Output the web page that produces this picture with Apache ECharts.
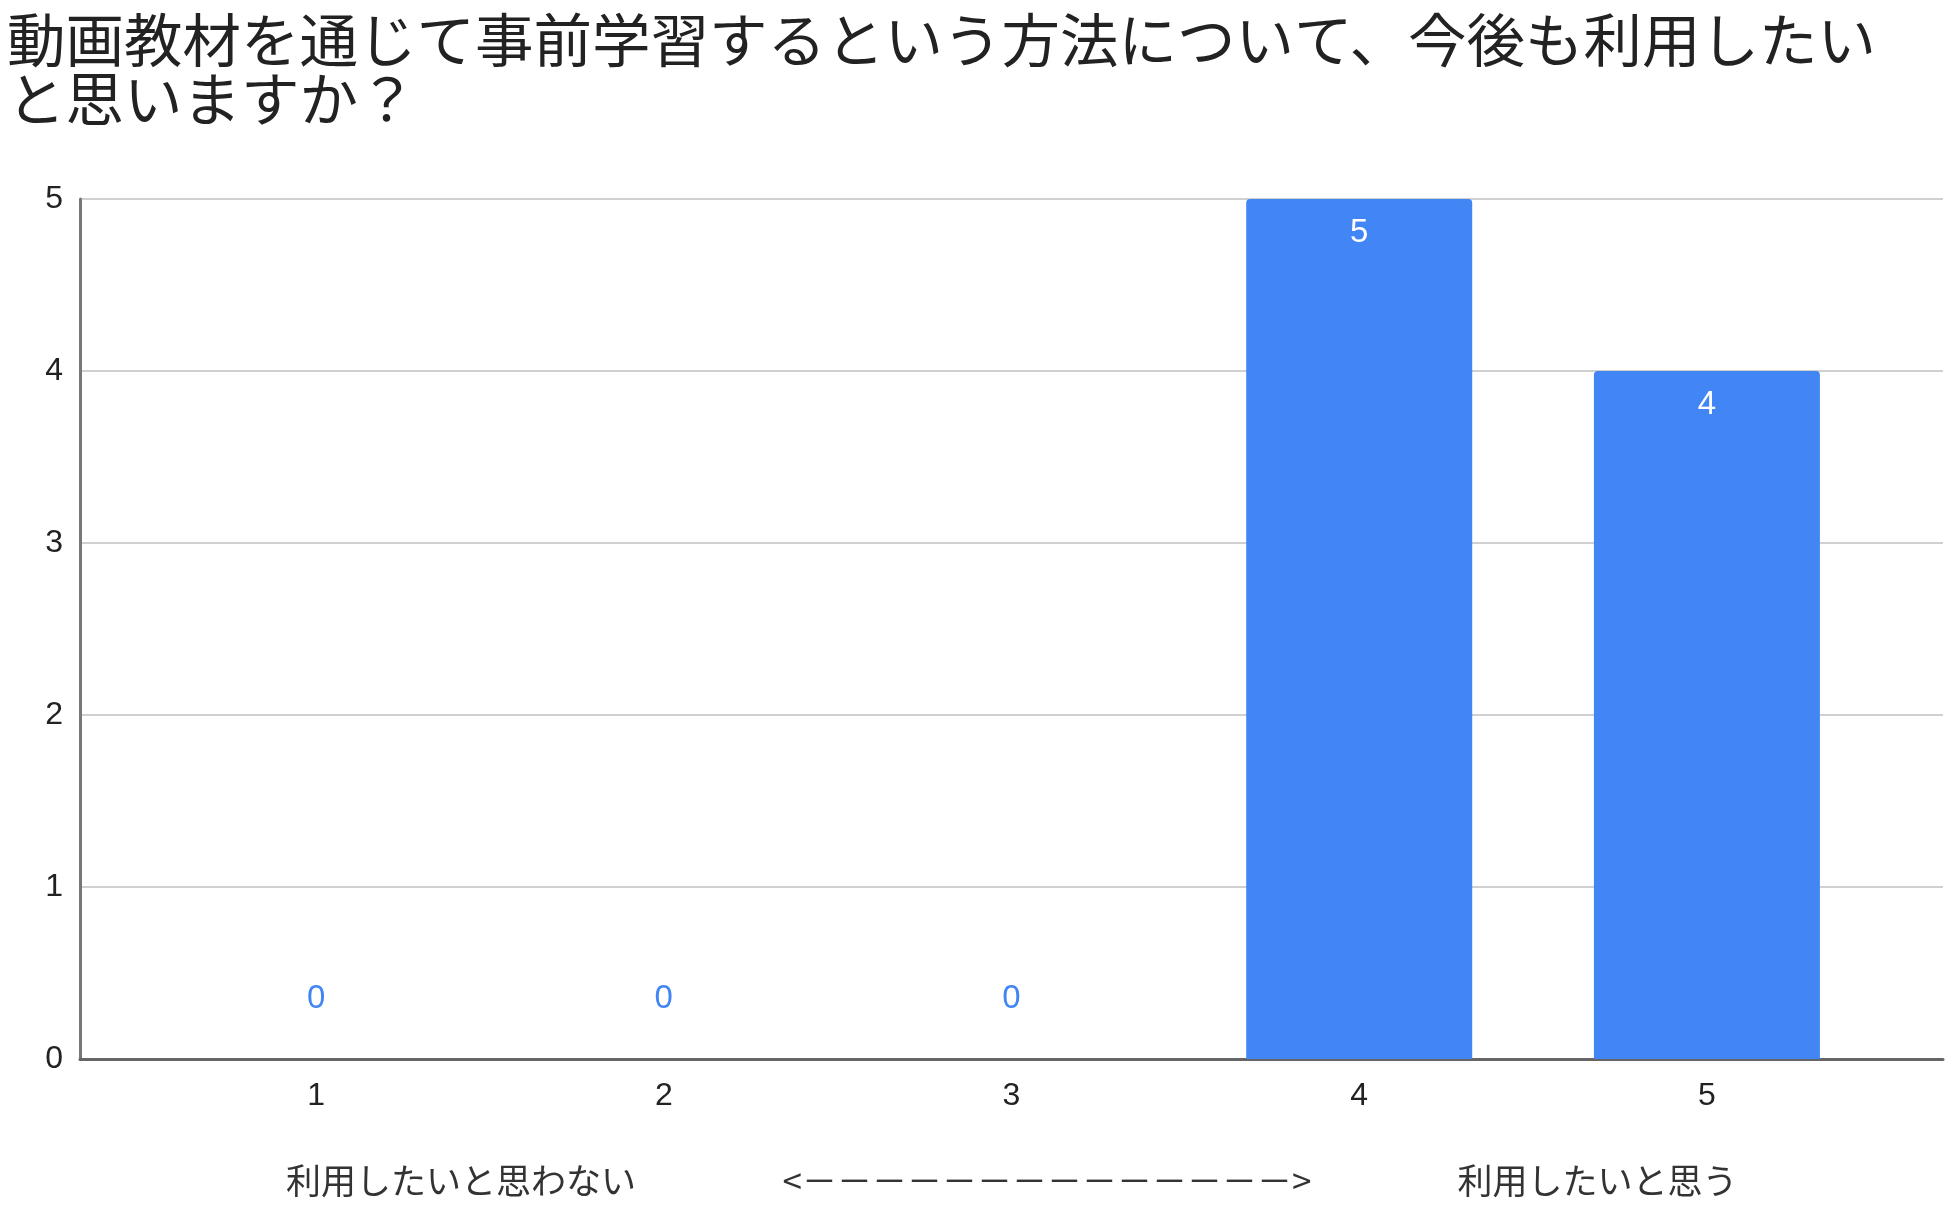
<!DOCTYPE html>
<html>
<head>
<meta charset="utf-8">
<title>動画教材</title>
<script src="https://cdn.jsdelivr.net/npm/echarts@6/dist/echarts.min.js"></script>
<style>
  html, body { margin: 0; padding: 0; background: #fff; }
  #chart { width: 1958px; height: 1230px; }
</style>
</head>
<body>
<div id="chart"></div>
<script>
// 回答の選択肢と人数
var categories = ['1', '2', '3', '4', '5'];
var counts = [0, 0, 0, 5, 4];
var yTicks = [0, 1, 2, 3, 4, 5];

var titleText = '動画教材を通じて事前学習するという方法について、今後も利用したい\nと思いますか？';
var leftNote = '利用したいと思わない';
var arrowNote = '<－－－－－－－－－－－－－－>';
var rightNote = '利用したいと思う';

var blue = '#4285F4';
var latin = '"Liberation Sans", Arial, sans-serif';
var cjk = '"Noto Sans CJK JP", sans-serif';

var chart = echarts.init(document.getElementById('chart'));

// 値が0のときは青字で上に、それ以外は棒の内側上部に白字
var barData = counts.map(function (v, i) {
    return {
        value: [i + 1, v],
        label: v > 0
            ? { position: 'insideTop', distance: 17, color: '#fff' }
            : { position: 'top', distance: 44, color: blue }
    };
});

var option = {
    backgroundColor: '#fff',
    animation: false,
    title: {
        text: titleText,
        left: 2,
        top: 5,
        textStyle: {
            fontFamily: cjk,
            fontSize: 58.5,
            fontWeight: 'normal',
            color: '#222',
            lineHeight: 59
        }
    },
    grid: { left: 80, right: 15, top: 199, bottom: 171 },
    xAxis: {
        type: 'value',
        min: 0.321,
        max: 5.679,
        splitLine: { show: false },
        axisTick: { show: false },
        axisLine: { show: true, onZero: false, lineStyle: { color: '#666', width: 3 } },
        axisLabel: {
            customValues: categories.map(function (c, i) { return i + 1; }),
            formatter: function (v) { return categories[Math.round(v) - 1]; },
            margin: 21,
            fontFamily: latin,
            fontSize: 32,
            color: '#222'
        },
        name: '{a|' + leftNote + '}{g| }{b|' + arrowNote + '}{g| }{c|' + rightNote + '}',
        nameLocation: 'middle',
        nameGap: 104,
        nameTextStyle: {
            fontFamily: cjk,
            fontSize: 35,
            color: '#333',
            rich: {
                a: { fontFamily: cjk, fontSize: 35, color: '#333', width: 351, align: 'center' },
                g: { width: 144 },
                b: { fontFamily: cjk, fontSize: 35, color: '#333', width: 533, align: 'center' },
                c: { fontFamily: cjk, fontSize: 35, color: '#333', width: 280, align: 'center' }
            }
        }
    },
    yAxis: {
        type: 'value',
        min: yTicks[0],
        max: yTicks[yTicks.length - 1],
        interval: 1,
        axisLine: { show: true, onZero: false, lineStyle: { color: '#777', width: 3 } },
        axisTick: { show: false },
        axisLabel: { margin: 17, fontFamily: latin, fontSize: 32, color: '#222' },
        splitLine: { lineStyle: { color: '#d0d0d0', width: 2 } }
    },
    series: [{
        type: 'bar',
        data: barData,
        barWidth: 226,
        itemStyle: { color: blue, borderRadius: [4, 4, 0, 0] },
        label: {
            show: true,
            fontFamily: latin,
            fontSize: 33,
            formatter: function (p) { return p.value[1]; }
        }
    }]
};

chart.setOption(option);
</script>
</body>
</html>
